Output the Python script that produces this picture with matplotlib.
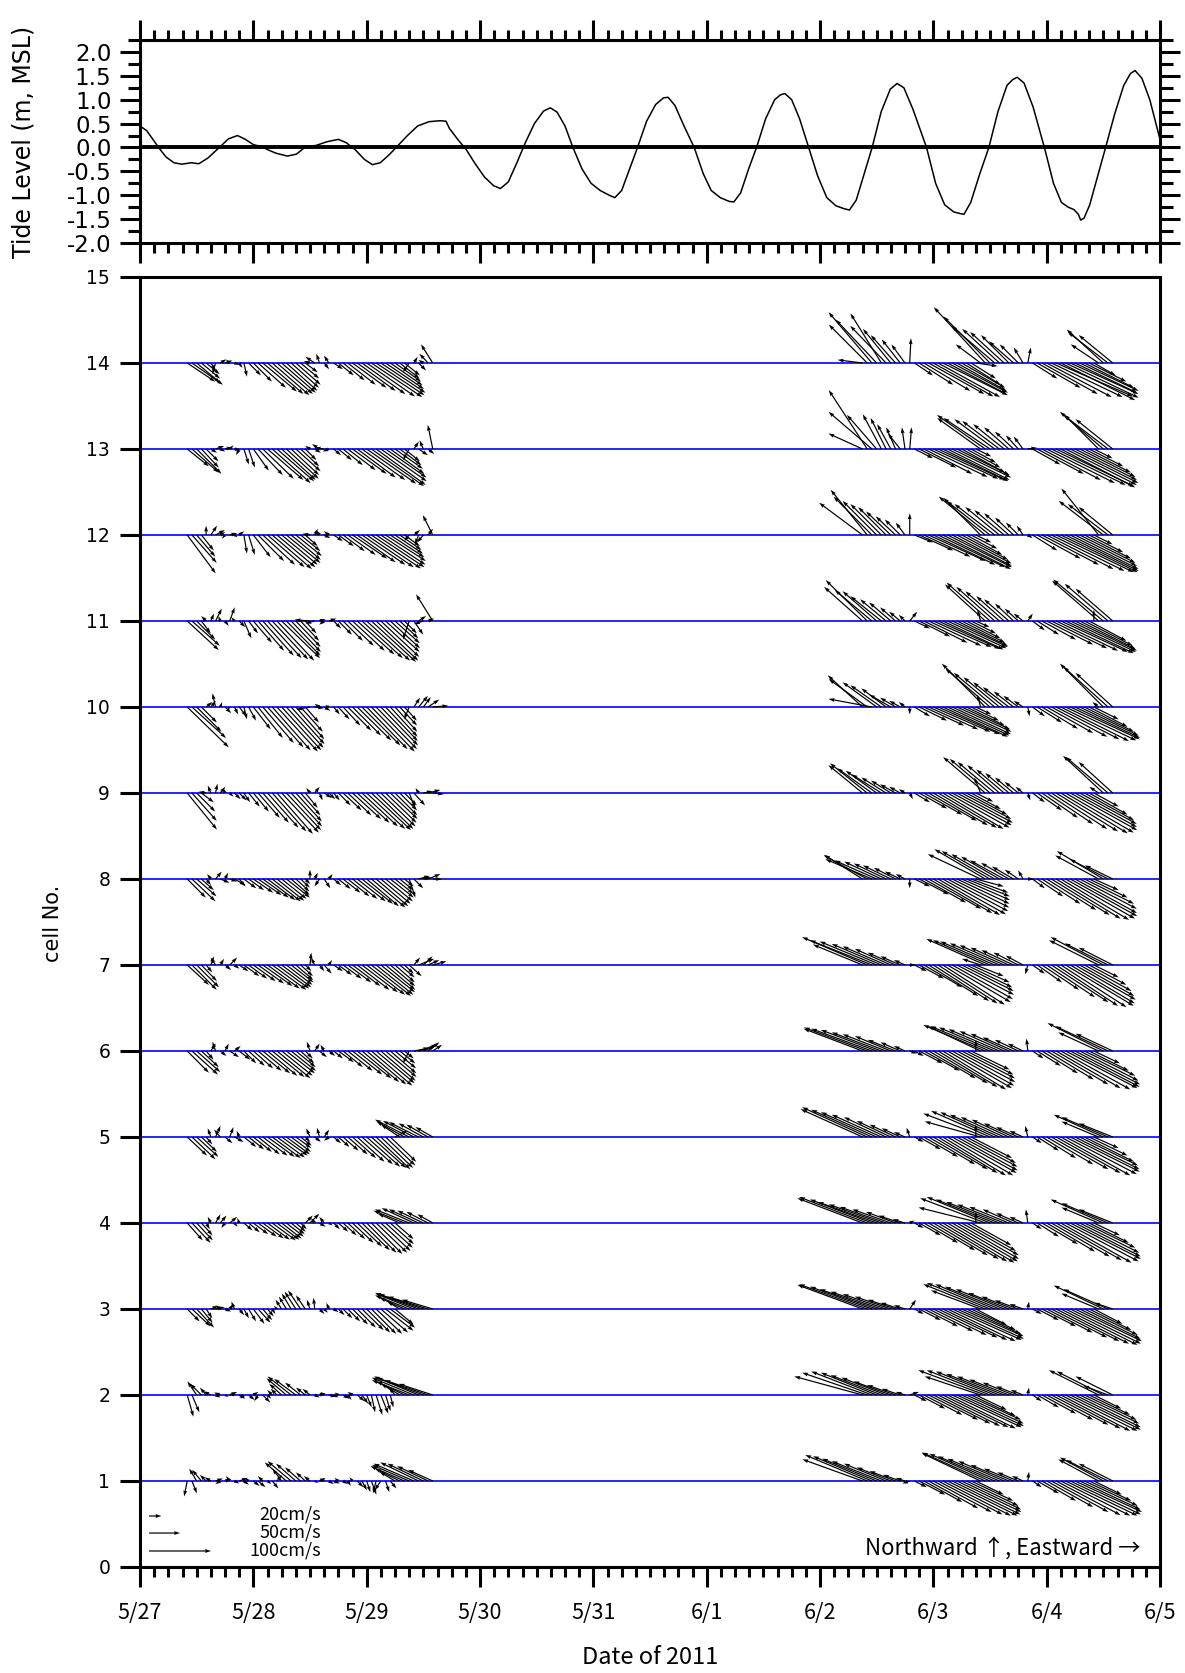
import numpy as np
import matplotlib
matplotlib.use('Agg')
import matplotlib.pyplot as plt
from matplotlib.ticker import MultipleLocator, FixedLocator

plt.rcParams['axes.unicode_minus'] = False
GOTHIC = ['Noto Sans CJK JP', 'DejaVu Sans']

# Tide level (m, MSL), time in days since 5/27 00:00
tide_t = [0.00, 0.06, 0.12, 0.17, 0.23, 0.30, 0.37, 0.45, 0.52, 0.60,
          0.70, 0.78, 0.86, 0.93, 1.00, 1.07, 1.13, 1.20, 1.30, 1.38,
          1.47, 1.55, 1.65, 1.75, 1.82, 1.90, 1.98, 2.05, 2.12, 2.20,
          2.28, 2.36, 2.45, 2.55, 2.65, 2.70, 2.73, 2.80, 2.88, 2.96,
          3.04, 3.12, 3.18, 3.25, 3.32, 3.40, 3.48, 3.56, 3.62, 3.68,
          3.75, 3.82, 3.90, 3.98, 4.06, 4.14, 4.19, 4.25, 4.32, 4.39,
          4.47, 4.55, 4.62, 4.66, 4.72, 4.80, 4.89, 4.97, 5.04, 5.12,
          5.20, 5.24, 5.30, 5.37, 5.44, 5.52, 5.60, 5.65, 5.69, 5.75,
          5.82, 5.90, 5.98, 6.06, 6.14, 6.21, 6.26, 6.32, 6.39, 6.46,
          6.54, 6.62, 6.68, 6.74, 6.82, 6.94, 7.02, 7.10, 7.18, 7.23,
          7.27, 7.33, 7.41, 7.49, 7.57, 7.65, 7.70, 7.74, 7.80, 7.88,
          7.98, 8.06, 8.13, 8.19, 8.24, 8.28, 8.30, 8.33, 8.38, 8.45,
          8.52, 8.60, 8.68, 8.74, 8.78, 8.84, 8.91, 8.97, 9.00]
tide_level = [0.45, 0.35, 0.15, -0.02, -0.20, -0.32, -0.35, -0.32, -0.34, -0.22,
              0.00, 0.18, 0.25, 0.17, 0.06, 0.02, -0.05, -0.12, -0.18, -0.14,
              0.03, 0.04, 0.12, 0.17, 0.10, -0.05, -0.25, -0.36, -0.32, -0.15,
              0.05, 0.25, 0.45, 0.54, 0.56, 0.55, 0.40, 0.18, -0.05, -0.35,
              -0.62, -0.80, -0.86, -0.72, -0.35, 0.10, 0.50, 0.76, 0.83, 0.74,
              0.45, 0.00, -0.45, -0.75, -0.90, -1.00, -1.05, -0.90, -0.45, 0.00,
              0.55, 0.90, 1.04, 1.05, 0.88, 0.45, 0.00, -0.55, -0.90, -1.05,
              -1.13, -1.14, -0.95, -0.45, 0.00, 0.60, 1.00, 1.10, 1.13, 1.00,
              0.60, 0.00, -0.60, -1.05, -1.22, -1.28, -1.31, -1.10, -0.55, 0.00,
              0.75, 1.22, 1.34, 1.25, 0.80, 0.00, -0.75, -1.20, -1.35, -1.38,
              -1.40, -1.15, -0.55, 0.00, 0.75, 1.30, 1.42, 1.47, 1.35, 0.85,
              0.00, -0.75, -1.15, -1.25, -1.30, -1.40, -1.52, -1.48, -1.20, -0.60,
              0.00, 0.70, 1.30, 1.55, 1.61, 1.45, 1.00, 0.45, 0.17]

# current vectors (cm/s), hourly; first record of each deployment (days since 5/27)
may_start = 10 / 24
jun_start = 6 + 9 / 24

c14_may_u = [45, 50, 38, 30, 22,
             8, -5, 10, 12, -6, 8, 5,
             5, 20, 30, 45, 55, 58, 60, 58, 55, 50, 45, 40, 30, 20,
             -10, -15, -5, 8, -8,
             15, 25, 35, 45, 55, 62, 70, 78, 82, 78, 72, 62, 52, 42, 32, 25,
             -10, 6, 12, -8, -14, -19]
c14_may_v = [-30, -35, -32, -25, -18,
             -12, -18, 6, 4, 5, -3, -8,
             -22, -20, -30, -40, -46, -50, -52, -50, -48, -45, -40, -35, -25, -15,
             3, 10, 15, -10, 12,
             -10, -20, -28, -35, -40, -45, -50, -54, -55, -52, -48, -42, -36, -30, -25, -20,
             -15, 10, -12, 5, 15, 30]
c14_jun_u = [-40, -62, -70, -66, -50, -58, -45, -40, -30, -22,
             2,
             30, 55, 75, 90, 97, 100, 105, 95, 90, 80, 70, 55, 40, 35,
             -40, -83, -75, -70, -60, -55, -45, -40, -30, -15,
             5,
             40, 70, 90, 105, 115, 124, 120, 118, 110, 100, 95, 80, 60, 35,
             -45, -59, -65, -55]
c14_jun_v = [5, 62, 82, 70, 80, 60, 55, 45, 38, 30,
             40,
             -20, -35, -45, -50, -54, -55, -52, -50, -48, -45, -40, -35, -25, -5,
             30, 90, 75, 60, 55, 50, 45, 35, 30, 25,
             25,
             -25, -40, -50, -55, -55, -54, -60, -56, -50, -48, -45, -40, -30, -20,
             30, 54, 50, 45]

c13_may_u = [35, 43, 40, 28, 20,
             10, 14, 8, 12, 6, 10, -5,
             8, 10, 25, 40, 50, 58, 62, 60, 55, 52, 45, 40, 30, 18,
             -8, 10, -12, -15, -10,
             12, 22, 32, 45, 55, 62, 70, 80, 85, 80, 74, 66, 55, 45, 35, 25,
             -10, 8, 15, -6, 10, -8]
c13_may_v = [-28, -38, -40, -30, -20,
             -6, 5, -4, 3, 6, -2, -10,
             -25, -30, -35, -42, -48, -50, -55, -52, -50, -48, -42, -36, -28, -18,
             5, -6, 8, 2, -4,
             -10, -18, -26, -34, -40, -46, -50, -56, -60, -58, -52, -46, -40, -32, -26, -20,
             -18, 12, -10, 14, -8, 39]
c13_jun_u = [-55, -62, -70, -48, -30, -25, -22, -15, -20, -5,
             3,
             30, 60, 78, 95, 105, 108, 106, 100, 95, 85, 70, 55, 40, 25,
             -70, -78, -75, -65, -60, -50, -40, -30, -20, -15,
             15,
             45, 75, 95, 110, 120, 125, 120, 115, 110, 100, 90, 75, 55, 30,
             -55, -70, -72, -60]
c13_jun_v = [25, 95, 60, 55, 56, 50, 40, 35, 25, 35,
             35,
             -15, -30, -40, -45, -48, -50, -52, -50, -46, -42, -38, -30, -22, -12,
             50, 55, 50, 48, 45, 40, 35, 28, 22, 20,
             2,
             -25, -40, -50, -55, -58, -60, -62, -58, -55, -50, -45, -38, -28, -15,
             55, 60, 55, 48]

c12_may_u = [46, 40, 30, 20, 0,
             10, 15, 8, -5, 12, 5, 8,
             5, 10, 28, 42, 52, 60, 64, 62, 58, 55, 48, 42, 32, 20,
             -12, 5, -6, 10, -8,
             15, 25, 35, 45, 56, 62, 70, 76, 80, 78, 72, 65, 55, 45, 35, 25,
             -8, 10, -6, -10, 8, -16]
c12_may_v = [-62, -45, -35, -25, 15,
             15, 8, 5, -6, 3, -4, 6,
             -30, -32, -36, -42, -48, -52, -55, -52, -48, -45, -40, -34, -26, -18,
             2, 10, 8, -5, 6,
             -10, -18, -26, -32, -38, -44, -48, -52, -54, -52, -48, -42, -36, -30, -24, -18,
             -10, 8, -15, -12, 10, 32]
c12_jun_u = [-70, -59, -62, -55, -50, -45, -40, -32, -25, -15,
             0,
             30, 55, 75, 92, 100, 108, 110, 104, 96, 88, 75, 58, 42, 25,
             -60, -75, -70, -65, -55, -48, -40, -30, -20, -10,
             8,
             40, 70, 92, 108, 118, 125, 124, 118, 110, 100, 90, 75, 55, 30,
             -60, -72, -65, -55]
c12_jun_v = [52, 73, 62, 55, 50, 45, 38, 30, 25, 20,
             35,
             -12, -25, -35, -42, -48, -52, -55, -52, -50, -46, -40, -32, -22, -12,
             60, 62, 55, 50, 45, 40, 35, 28, 20, 15,
             -5,
             -25, -38, -48, -55, -58, -60, -60, -58, -55, -50, -45, -38, -28, -15,
             75, 55, 50, 45]

c11_may_u = [51, 45, 30, 15, -8,
             5, 10, -3, 6, 8, -5, 10,
             12, 15, 30, 42, 50, 55, 58, 60, 62, 55, 48, 40, 30, 18,
             -25, -15, 10, -8, 12,
             12, 22, 32, 42, 52, 60, 66, 70, 72, 68, 62, 55, 48, 40, 30, 20,
             -10, 15, 12, -15, 10, -27]
c11_may_v = [-47, -40, -30, -20, 8,
             12, 20, 8, -8, 22, 6, -10,
             -28, -20, -35, -48, -56, -60, -62, -64, -60, -56, -50, -42, -32, -20,
             2, -4, 3, -6, 4,
             -12, -22, -32, -40, -48, -54, -60, -64, -66, -64, -58, -50, -44, -36, -28, -20,
             -30, -22, 8, -5, 4, 43]
c11_jun_u = [-62, -67, -60, -55, -50, -42, -35, -25, -18, -10,
             12,
             25, 50, 70, 85, 94, 100, 98, 95, 90, 82, 70, 55, 40, 22,
             -5, -65, -70, -62, -55, -45, -40, -30, -22, -15,
             8,
             20, 35, 55, 75, 90, 100, 108, 110, 106, 100, 90, 78, 60, 0,
             -75, -81, -70, -60]
c11_jun_v = [55, 66, 50, 48, 40, 35, 30, 22, 15, 10,
             15,
             -12, -25, -35, -40, -42, -45, -46, -44, -42, -40, -35, -28, -20, -10,
             18, 59, 62, 55, 48, 40, 35, 28, 20, 12,
             12,
             -15, -22, -30, -38, -44, -48, -50, -52, -50, -48, -45, -40, -32, 18,
             65, 67, 60, 52]

c10_may_u = [67, 55, 40, 25, 10,
             8, -5, 3, 10, -4, 6, 12,
             5, 12, 28, 40, 50, 58, 62, 66, 64, 60, 54, 46, 36, 22,
             -22, 15, -8, 10, -6,
             10, 18, 28, 38, 46, 55, 62, 66, 70, 66, 60, 52, 44, 36, 28, 20,
             -8, 10, 15, 12, 18, 25]
c10_may_v = [-65, -50, -40, -25, 8,
             10, 22, 8, -10, -5, -12, -15,
             -20, -22, -36, -50, -58, -65, -70, -72, -70, -66, -60, -52, -40, -25,
             -4, -2, 5, -6, 3,
             -12, -20, -30, -38, -46, -54, -62, -68, -72, -68, -62, -55, -48, -40, -30, -22,
             -20, 15, 18, 16, 12, 2]
c10_jun_u = [-56, -62, -70, -55, -50, -40, -35, -25, -18, -10,
             0,
             25, 45, 65, 80, 92, 100, 105, 100, 95, 88, 78, 62, 45, 25,
             -5, -70, -72, -66, -58, -50, -42, -32, -24, -15,
             3,
             20, 40, 58, 75, 90, 102, 110, 114, 112, 105, 95, 80, 62, 40,
             -10, -70, -72, -60]
c10_jun_v = [51, 45, 13, 40, 35, 30, 20, 15, 10, 8,
             -12,
             -15, -22, -30, -36, -40, -44, -48, -46, -44, -40, -36, -30, -22, -12,
             20, 70, 62, 55, 48, 40, 32, 25, 18, 10,
             -15,
             -15, -25, -35, -42, -48, -52, -55, -54, -52, -50, -46, -40, -32, -20,
             8, 70, 65, 55]

c9_may_u = [48, 40, 30, 20, -12,
            -5, 3, 8, -3, 6, 10, 12,
            10, 18, 25, 35, 42, 50, 55, 58, 60, 56, 50, 42, 32, 20,
            -6, 8, 5, 12, 10,
            10, 20, 30, 38, 46, 52, 58, 62, 64, 60, 56, 50, 44, 36, 28, 20,
            10, 18, -5, 15, 20, 18]
c9_may_v = [-59, -45, -30, -15, 2,
            12, 15, 10, 8, -6, -10, -12,
            -15, -22, -30, -40, -48, -56, -62, -66, -64, -60, -54, -46, -36, -24,
            8, 10, -12, -8, -10,
            -12, -20, -28, -36, -42, -48, -54, -58, -60, -58, -54, -48, -42, -36, -28, -20,
            -25, -20, 8, 3, 5, -2]
c9_jun_u = [-55, -60, -56, -50, -48, -40, -32, -25, -18, -10,
            5,
            25, 45, 62, 78, 88, 95, 98, 100, 96, 90, 80, 66, 48, 28,
            -10, -68, -65, -60, -52, -45, -38, -30, -22, -12,
            4,
            20, 40, 58, 75, 90, 100, 108, 110, 108, 100, 92, 80, 62, 40,
            -15, -65, -68, -55]
c9_jun_v = [45, 48, 40, 36, 30, 25, 20, 14, 10, 6,
            -10,
            -15, -25, -35, -45, -52, -56, -58, -56, -52, -48, -42, -35, -26, -14,
            25, 58, 55, 50, 45, 38, 32, 25, 18, 10,
            -12,
            -15, -28, -40, -50, -58, -62, -65, -64, -60, -55, -50, -44, -35, -22,
            10, 60, 58, 50]

c8_may_u = [30, 38, 32, 20, 8,
            -6, 10, 15, 5, 12, 18, 10,
            20, 25, 32, 38, 42, 45, 46, 44, 40, 38, 30, 22, 15, 8,
            0, 5, -8, 10, 6,
            12, 20, 28, 35, 40, 46, 50, 52, 55, 52, 48, 44, 38, 30, 22, 15,
            10, 15, 18, 12, 20, 15]
c8_may_v = [-30, -36, -28, -18, -10,
            8, 12, -6, 10, -4, -10, -12,
            -15, -18, -22, -26, -30, -34, -36, -35, -32, -30, -26, -20, -14, -8,
            15, 10, -12, -15, 8,
            -10, -16, -22, -28, -32, -36, -40, -44, -46, -44, -40, -36, -30, -24, -18, -12,
            -30, -15, 5, 3, 8, 0]
c8_jun_u = [-62, -70, -75, -68, -60, -52, -45, -35, -25, -15,
            0,
            25, 48, 68, 85, 95, 100, 102, 98, 92, 85, 78, 70, 60, 45,
            -85, -82, -78, -70, -62, -55, -45, -35, -22, -8,
            10,
            20, 42, 62, 80, 94, 104, 110, 112, 108, 100, 92, 80, 62, 40,
            -70, -75, -62, -45]
c8_jun_v = [39, 38, 32, 30, 28, 25, 22, 18, 12, 8,
            -15,
            -12, -25, -38, -48, -55, -58, -57, -52, -46, -40, -34, -28, -22, -12,
            40, 48, 45, 40, 36, 30, 26, 20, 15, 14,
            0,
            -15, -28, -40, -50, -58, -64, -66, -64, -60, -55, -48, -40, -30, -18,
            38, 45, 32, 22]

c7_may_u = [35, 40, 36, 25, 10,
            5, -8, 6, 10, 12, 8, 15,
            25, 30, 36, 42, 48, 52, 55, 52, 48, 42, 36, 28, 20, 10,
            2, -6, 8, 12, 5,
            15, 22, 30, 38, 45, 52, 58, 62, 64, 60, 55, 48, 40, 32, 24, 15,
            20, 10, 25, 15, 18, 22]
c7_may_v = [-32, -40, -36, -26, -12,
            14, 12, 10, -8, 12, -6, -10,
            -18, -22, -26, -30, -34, -38, -40, -38, -36, -32, -28, -24, -18, -10,
            20, 12, -10, -14, 8,
            -10, -16, -22, -28, -34, -40, -44, -48, -50, -48, -44, -40, -34, -28, -20, -14,
            -18, 12, 10, 14, 8, 6]
c7_jun_u = [-80, -105, -100, -92, -80, -70, -58, -45, -32, -18,
            10,
            20, 40, 62, 80, 90, 96, 100, 102, 98, 92, 84, 74, 62, 45,
            -30, -95, -92, -88, -80, -72, -62, -52, -40, -28,
            -4,
            20, 40, 60, 78, 92, 100, 106, 110, 104, 98, 88, 76, 60, 40,
            -80, -85, -70, -55]
c7_jun_v = [33, 45, 40, 38, 34, 30, 26, 20, 14, 8,
            0,
            -10, -22, -36, -50, -58, -62, -64, -60, -55, -48, -42, -36, -28, -18,
            10, 42, 40, 38, 35, 32, 28, 24, 20, 15,
            -15,
            -14, -28, -40, -52, -60, -66, -68, -66, -62, -56, -50, -42, -32, -20,
            40, 45, 35, 28]

c6_may_u = [35, 42, 38, 28, 12,
            8, -5, 10, 6, 15, 10, 18,
            20, 26, 32, 38, 44, 48, 52, 54, 50, 46, 40, 32, 22, 12,
            -5, 8, 12, -6, 10,
            15, 25, 32, 40, 48, 55, 60, 64, 66, 62, 56, 50, 42, 34, 25, 15,
            -10, 25, 30, 20, 18, 15]
c6_may_v = [-35, -38, -34, -26, -14,
            12, 15, -8, 12, -10, 8, -14,
            -20, -24, -28, -32, -36, -40, -42, -44, -40, -36, -32, -26, -20, -12,
            15, 12, -10, 10, -8,
            -12, -18, -26, -32, -38, -44, -50, -54, -56, -52, -48, -42, -36, -28, -20, -12,
            -20, 5, 10, 8, 14, 10]
c6_jun_u = [-95, -102, -98, -90, -80, -70, -58, -45, -32, -18,
            12,
            15, 38, 58, 76, 88, 96, 102, 104, 100, 94, 86, 76, 62, 0,
            -85, -100, -96, -90, -82, -72, -62, -50, -38, -25,
            -2,
            18, 38, 58, 76, 92, 104, 112, 116, 112, 105, 95, 82, 64, 42,
            -65, -90, -85, -60]
c6_jun_v = [36, 38, 36, 34, 30, 27, 24, 18, 14, 8,
            -4,
            -8, -20, -32, -44, -52, -58, -62, -60, -56, -50, -44, -38, -30, 18,
            40, 42, 40, 38, 35, 32, 28, 22, 18, 12,
            20,
            -12, -24, -36, -46, -54, -60, -62, -60, -58, -54, -48, -40, -32, -20,
            30, 45, 40, 28]

c5_may_u = [32, 38, 35, 25, 10,
            -5, 8, -10, 12, 6, 15, -4,
            20, 25, 30, 35, 40, 44, 46, 45, 42, 38, 32, 25, 18, 8,
            -6, 10, -4, 8, -8,
            12, 18, 25, 32, 38, 44, 50, 54, 56, 55, 52, 48, 42, 20, -30, -45,
            -55, -50, -48, -40, -35, -28]
c5_may_v = [-30, -36, -32, -24, -12,
            14, 18, 12, -10, 16, -8, 10,
            -16, -20, -24, -28, -30, -32, -34, -33, -30, -28, -24, -18, -14, -8,
            14, -8, 15, 12, -6,
            -10, -16, -22, -28, -34, -40, -44, -48, -50, -52, -50, -46, -40, 10, 20, 25,
            28, 26, 24, 22, 20, 16]
c5_jun_u = [-100, -105, -98, -90, -80, -68, -55, -42, -30, -18,
            -5,
            15, 35, 55, 75, 88, 96, 102, 106, 104, 98, 90, 80, 66, 0,
            -90, -100, -95, -88, -80, -70, -60, -48, -36, -22,
            -4,
            15, 35, 55, 75, 92, 104, 112, 115, 112, 104, 94, 80, 62, 40,
            -60, -80, -75, -55]
c5_jun_v = [45, 48, 44, 40, 36, 32, 26, 20, 14, 8,
            15,
            -8, -20, -32, -44, -52, -58, -62, -62, -58, -54, -48, -42, -34, 20,
            25, 38, 42, 40, 36, 32, 28, 22, 16, 10,
            18,
            -10, -22, -34, -44, -52, -58, -62, -60, -56, -52, -46, -40, -30, -18,
            25, 36, 32, 22]

c4_may_u = [25, 30, 26, 18, 6,
            -5, 8, 10, -6, 12, 5, -3,
            14, 18, 24, 30, 34, 36, 38, 36, 32, 28, 22, 16, 10, 12,
            15, -6, 10, -8, 6,
            10, 16, 22, 28, 34, 40, 45, 48, 50, 50, 48, 44, 38, 30, -35, -50,
            -55, -52, -48, -42, -35, -25]
c4_may_v = [-28, -32, -28, -20, -10,
            10, 14, 12, -8, 10, -6, 8,
            -12, -15, -18, -22, -25, -27, -28, -27, -25, -22, -18, -14, -10, 12,
            15, 8, -6, 10, -4,
            -10, -14, -20, -26, -32, -38, -44, -48, -50, -48, -45, -40, -34, -26, 15, 20,
            22, 24, 22, 20, 18, 14]
c4_jun_u = [-105, -110, -100, -95, -85, -75, -62, -48, -35, -20,
            8,
            15, 35, 55, 75, 88, 98, 104, 108, 106, 100, 92, 80, 65, 0,
            -100, -105, -102, -95, -86, -76, -64, -50, -36, -22,
            -3,
            15, 35, 58, 78, 94, 106, 114, 118, 114, 106, 96, 82, 64, 42,
            -60, -85, -75, -55]
c4_jun_v = [40, 42, 38, 34, 30, 26, 22, 18, 12, 6,
            4,
            -8, -20, -32, -44, -52, -58, -62, -64, -62, -58, -52, -45, -36, 18,
            25, 40, 42, 38, 34, 30, 26, 22, 16, 10,
            22,
            -10, -22, -34, -46, -54, -60, -64, -62, -58, -54, -48, -40, -32, -20,
            25, 38, 32, 22]

c3_may_u = [20, 30, 28, 18, 10,
            12, 15, -8, 10, 6, -5, 8,
            8, 12, 18, 20, 15, 10, 5, -5, -10, -12, -15, -18, -20, -15,
            -5, -2, 8, 6, -4,
            8, 10, 15, 20, 25, 30, 35, 38, 40, 42, 44, 45, 40, 30, -20, -40,
            -55, -62, -70, -72, -65, -50]
c3_may_v = [-20, -28, -30, -22, -15,
            5, 3, 6, -4, 8, 12, -10,
            -15, -20, -24, -22, -18, -12, -8, 5, 15, 20, 25, 28, 30, 22,
            15, 18, -8, -6, 10,
            -5, -10, -15, -20, -25, -30, -34, -38, -40, -40, -38, -35, -30, -25, 12, 18,
            22, 25, 26, 24, 20, 15]
c3_jun_u = [-105, -110, -100, -92, -82, -70, -58, -45, -32, -18,
            10,
            15, 35, 55, 72, 86, 96, 104, 110, 112, 108, 100, 88, 72, 50,
            -80, -100, -102, -96, -88, -78, -66, -52, -38, -22,
            2,
            15, 35, 55, 74, 90, 102, 110, 116, 114, 108, 98, 86, 68, 46,
            -60, -80, -72, -30]
c3_jun_v = [39, 40, 36, 32, 28, 24, 20, 15, 10, 6,
            15,
            -8, -18, -28, -36, -42, -46, -50, -52, -50, -48, -44, -40, -34, -26,
            30, 40, 42, 40, 36, 32, 26, 20, 14, 8,
            12,
            -8, -18, -28, -38, -46, -52, -56, -58, -56, -52, -48, -42, -34, -24,
            25, 38, 32, 10]

c2_may_u = [10, 12, -15, -18, -10,
            -12, 8, -10, 6, 12, -8, 10,
            -5, 10, 8, -6, 12, 6, -8, -10, -20, -32, -38, -35, -25, -15,
            -12, 8, 10, -6, 12,
            8, -6, 10, 6, -8, 12, 10, 8, 6, 10, 12, 8, 5, -10, -30, -45,
            -60, -68, -72, -75, -70, -55]
c2_may_v = [-35, -28, 22, 18, 12,
            6, -4, 4, -3, 5, 2, -6,
            -6, -8, 5, -10, -12, -6, 8, 10, 18, 27, 30, 26, 20, 12,
            10, -4, 3, 5, -3,
            -4, 4, -6, -8, 5, -10, -14, -20, -28, -32, -30, -26, -20, 12, 18, 22,
            24, 28, 30, 28, 24, 18]
c2_jun_u = [-110, -105, -98, -90, -82, -72, -60, -46, -30, -15,
            15,
            20, 42, 62, 80, 92, 100, 106, 110, 112, 108, 100, 88, 72, 50,
            -90, -108, -102, -95, -86, -76, -64, -50, -36, -20,
            2,
            15, 35, 55, 75, 92, 104, 112, 116, 114, 106, 96, 84, 66, 44,
            -80, -75, -40, -60]
c2_jun_v = [30, 36, 38, 36, 32, 28, 22, 16, 10, 5,
            5,
            -10, -22, -32, -40, -46, -50, -52, -54, -52, -50, -46, -40, -34, -24,
            30, 40, 40, 38, 34, 30, 25, 20, 14, 8,
            12,
            -10, -20, -30, -40, -48, -54, -58, -58, -56, -52, -46, -40, -32, -22,
            40, 38, 15, 30]

c1_may_u = [-5, 8, -12, -15, -10,
            -10, 12, -8, 10, -6, 8, 14,
            8, -6, 10, 12, -8, 6, 10, 8, -15, -35, -38, -32, -25, -15,
            -10, 6, 10, -6, 8,
            10, -6, 8, 5, -5, 10, 8, 6, 8, -5, -10, 6, 10, -25, -40, -55,
            -60, -65, -62, -58, -50, -40]
c1_may_v = [-25, -20, 20, 18, 10,
            6, 4, -5, 3, 8, -4, 5,
            -6, 5, -8, -10, 8, -5, -12, 10, 20, 30, 32, 28, 22, 14,
            8, -3, 5, 4, -5,
            -4, 5, -5, -8, 6, -10, -15, -18, -22, -20, -15, -18, -12, 15, 20, 24,
            26, 28, 30, 28, 24, 18]
c1_jun_u = [-97, -100, -95, -88, -80, -68, -55, -42, -28, -15,
            -12,
            20, 42, 62, 80, 94, 104, 110, 113, 110, 104, 96, 84, 68, 45,
            -95, -102, -98, -92, -84, -74, -62, -48, -34, -18,
            2,
            15, 35, 55, 75, 92, 104, 112, 116, 114, 108, 98, 86, 68, 45,
            -65, -70, -68, -55]
c1_jun_v = [35, 42, 40, 36, 32, 28, 22, 16, 10, 5,
            -4,
            -10, -22, -34, -44, -50, -54, -56, -56, -54, -50, -46, -40, -32, -22,
            45, 46, 44, 40, 36, 32, 26, 20, 14, 8,
            15,
            -10, -20, -32, -42, -50, -55, -56, -56, -54, -50, -46, -40, -32, -22,
            35, 38, 34, 28]

cell_data = {
    14: (c14_may_u, c14_may_v, c14_jun_u, c14_jun_v),
    13: (c13_may_u, c13_may_v, c13_jun_u, c13_jun_v),
    12: (c12_may_u, c12_may_v, c12_jun_u, c12_jun_v),
    11: (c11_may_u, c11_may_v, c11_jun_u, c11_jun_v),
    10: (c10_may_u, c10_may_v, c10_jun_u, c10_jun_v),
    9: (c9_may_u, c9_may_v, c9_jun_u, c9_jun_v),
    8: (c8_may_u, c8_may_v, c8_jun_u, c8_jun_v),
    7: (c7_may_u, c7_may_v, c7_jun_u, c7_jun_v),
    6: (c6_may_u, c6_may_v, c6_jun_u, c6_jun_v),
    5: (c5_may_u, c5_may_v, c5_jun_u, c5_jun_v),
    4: (c4_may_u, c4_may_v, c4_jun_u, c4_jun_v),
    3: (c3_may_u, c3_may_v, c3_jun_u, c3_jun_v),
    2: (c2_may_u, c2_may_v, c2_jun_u, c2_jun_v),
    1: (c1_may_u, c1_may_v, c1_jun_u, c1_jun_v),
}

date_labels = ['5/27', '5/28', '5/29', '5/30', '5/31', '6/1', '6/2', '6/3', '6/4', '6/5']
tide_ticks = [2.0, 1.5, 1.0, 0.5, 0.0, -0.5, -1.0, -1.5, -2.0]
legend_speeds = [20, 50, 100]

# arrow scale: 100 cm/s drawn 0.62 inch long
QKW = dict(angles='uv', scale_units='inches', scale=100 / 0.62, units='inches',
           width=0.012, headwidth=3.2, headlength=5, headaxislength=4.5,
           color='black', zorder=3)

W, H = 1185, 1673


def px_axes(left, top, right, bottom):
    return [left / W, 1 - bottom / H, (right - left) / W, (bottom - top) / H]


fig = plt.figure(figsize=(W / 100, H / 100), dpi=100)
ax_tide = fig.add_axes(px_axes(140, 40, 1160, 243))
ax_vec = fig.add_axes(px_axes(140, 277, 1160, 1567))

for ax in (ax_tide, ax_vec):
    for sp in ax.spines.values():
        sp.set_linewidth(2.2)
    ax.set_xlim(0, 9)
    ax.xaxis.set_major_locator(MultipleLocator(1))
    ax.xaxis.set_minor_locator(MultipleLocator(0.125))
    ax.tick_params(which='both', direction='out', width=2.2)
    ax.tick_params(which='major', length=14.5)
    ax.tick_params(which='minor', length=7.5)

# --- tide panel
ax_tide.plot(tide_t, tide_level, color='black', lw=1.1)
ax_tide.axhline(0, color='black', lw=2.8)
ax_tide.set_ylim(-2, 2.25)
ax_tide.yaxis.set_major_locator(FixedLocator(tide_ticks))
ax_tide.set_yticklabels([f'{v:.1f}' for v in tide_ticks], fontsize=16.5)
ax_tide.yaxis.set_minor_locator(MultipleLocator(0.25))
ax_tide.tick_params(top=True, bottom=True, left=True, right=True, which='both',
                    labelbottom=False, labeltop=False, labelleft=True, labelright=False)
ax_tide.tick_params(axis='y', which='major', pad=6)
ax_tide.tick_params(axis='y', which='minor', length=9)
fig.text(23 / W, 1 - 142 / H, 'Tide Level (m, MSL)', rotation=90,
         ha='center', va='center', fontsize=17)

# --- current vectors
for n in range(1, 15):
    ax_vec.axhline(n, color='#0000ff', lw=1.2, zorder=1)

for n, (mu, mv, ju, jv) in cell_data.items():
    for start, u, v in ((may_start, mu, mv), (jun_start, ju, jv)):
        m = min(len(u), len(v))
        t = start + np.arange(m) / 24
        ax_vec.quiver(t, np.full(m, n), np.array(u[:m]), np.array(v[:m]), **QKW)

# speed legend
leg_x = [0.08] * 3
leg_y = [0.593, 0.395, 0.186]
ax_vec.quiver(leg_x, leg_y, legend_speeds, [0, 0, 0], **QKW)
for s, y in zip(legend_speeds, [0.607, 0.400, 0.193]):
    ax_vec.text(1.60, y, f'{s}cm/s', ha='right', va='center', fontsize=13,
                family=GOTHIC)
ax_vec.text(8.83, 0.22, 'Northward ↑, Eastward →', ha='right', va='center',
            fontsize=16, family=GOTHIC)

ax_vec.set_ylim(0, 15)
ax_vec.set_yticks(range(0, 16))
ax_vec.set_yticklabels([str(i) for i in range(0, 16)], fontsize=13.5)
ax_vec.tick_params(top=False, right=False, labelbottom=False, which='both')
ax_vec.tick_params(axis='y', which='major', pad=7)

# date labels sit 46 px under the bottom spine
date_tf = ax_vec.get_xaxis_transform()
for d, lab in enumerate(date_labels):
    ax_vec.text(d, -46 / 1290, lab, transform=date_tf, ha='center', va='center',
                fontsize=15.5, family=GOTHIC, clip_on=False)

fig.text(650 / W, 1 - 1657 / H, 'Date of 2011', ha='center', va='center',
         fontsize=17, family=GOTHIC)
fig.text(53 / W, 1 - 923 / H, 'cell No.', rotation=90, ha='center', va='center',
         fontsize=15)

fig.savefig('out.png', dpi=100)
